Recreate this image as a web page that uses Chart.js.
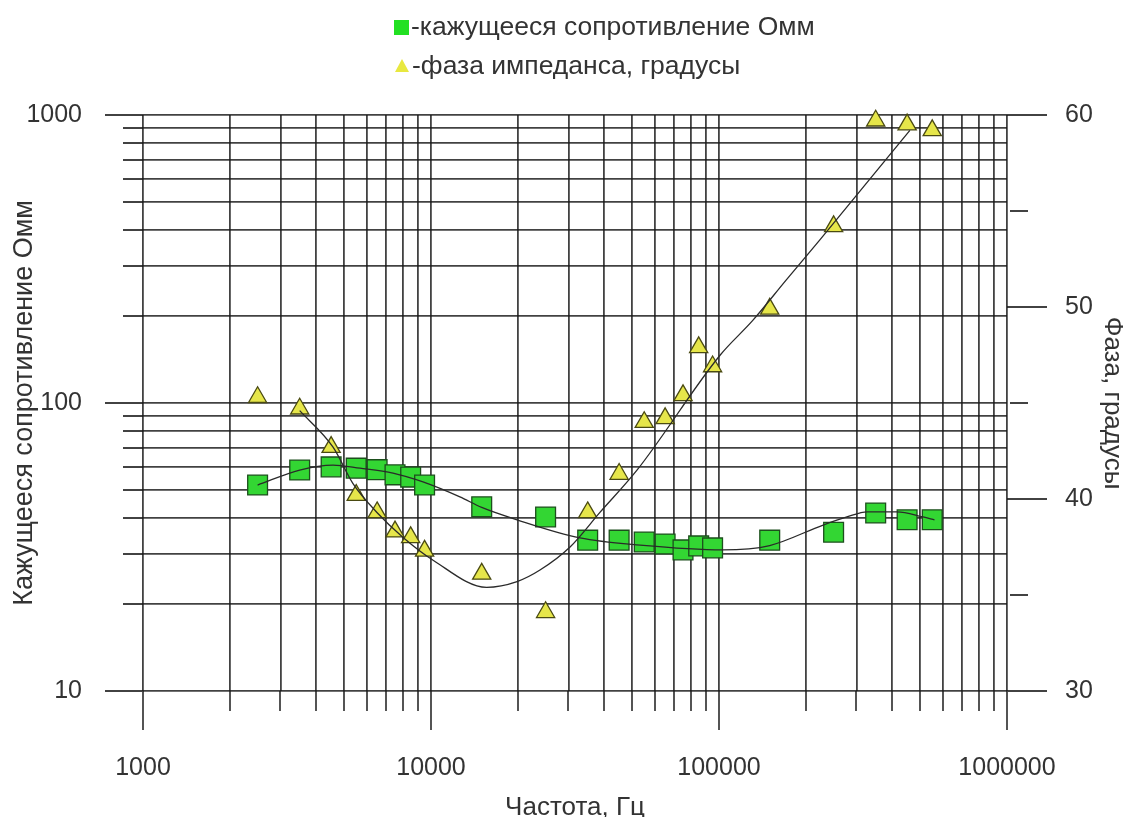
<!DOCTYPE html>
<html>
<head>
<meta charset="utf-8">
<script src="https://cdn.jsdelivr.net/npm/chart.js@4.4.1/dist/chart.umd.min.js"></script>
<style>
  body { margin: 0; background: #fff; }
  #wrap { position: relative; width: 1125px; height: 817px; font-family: "Liberation Sans", Arial, sans-serif; color: #333; }
  .leg { position: absolute; font-size: 26.5px; line-height: 26.5px; white-space: nowrap; }
  .sq { position: absolute; left: 394px; top: 20px; width: 15px; height: 15px; background: #22e022; }
  .tri { position: absolute; left: 395px; top: 59px; width: 0; height: 0;
         border-left: 7.5px solid transparent; border-right: 7.5px solid transparent; border-bottom: 13px solid #e8e840; }
  canvas { position: absolute; left: 0; top: 0; }
</style>
</head>
<body>
<div id="wrap">
  <canvas id="impedanceChart" width="1125" height="817"></canvas>
  <span class="sq"></span><span class="leg" style="left:411px; top:13px;">-кажущееся сопротивление Омм</span>
  <span class="tri"></span><span class="leg" style="left:412px; top:52px;">-фаза импеданса, градусы</span>
</div>
<script>
// measured points
const freq = [2500, 3500, 4500, 5500, 6500, 7500, 8500, 9500, 15000, 25000, 35000, 45000, 55000, 65000, 75000, 85000, 95000, 150000, 250000, 350000, 450000, 550000];
const resistance = [51.9, 58.5, 60.0, 59.4, 58.7, 56.3, 55.3, 51.9, 43.6, 40.2, 33.4, 33.4, 32.9, 32.4, 30.9, 31.9, 31.4, 33.4, 35.6, 41.5, 39.3, 39.3];
const phase = [45.3, 44.7, 42.7, 40.2, 39.3, 38.3, 38.0, 37.3, 36.1, 34.1, 39.3, 41.3, 44.0, 44.2, 45.4, 47.9, 46.9, 49.9, 54.2, 59.7, 59.5, 59.2];

// fitted curves
const resFitFreq = [2500, 3500, 4570, 5670, 7380, 9380, 12600, 15000, 19900, 32900, 53200, 103000, 150000, 230000, 278000, 327000, 415000, 511000, 560000];
const resFitVal = [51.9, 58.5, 60.9, 59.4, 57.1, 53.2, 47.2, 43.4, 39.3, 34.0, 32.1, 30.9, 32.0, 37.7, 40.2, 41.9, 41.9, 40.2, 39.3];
const phaseFitFreq = [3500, 4570, 5360, 6490, 8000, 10200, 15600, 19900, 23900, 30400, 38600, 51900, 101000, 131000, 171000, 224000, 460000];
const phaseFitVal = [44.6, 42.7, 40.8, 39.3, 38.0, 36.8, 35.4, 35.7, 36.3, 37.5, 39.3, 41.5, 47.5, 49.3, 51.4, 53.5, 59.2];

// axes
const xTicks = [1000, 2000, 3000, 4000, 5000, 6000, 7000, 8000, 9000, 10000, 20000, 30000, 40000, 50000, 60000, 70000, 80000, 90000,
  100000, 200000, 300000, 400000, 500000, 600000, 700000, 800000, 900000, 1000000];
const xLabels = [1000, 10000, 100000, 1000000];
const yTicks = [10, 20, 30, 40, 50, 60, 70, 80, 90, 100, 200, 300, 400, 500, 600, 700, 800, 900, 1000];
const yLabels = [10, 100, 1000];
const phaseTicks = [30, 35, 40, 45, 50, 55, 60];
const phaseLabels = [30, 40, 50, 60];

const gridColor = 'rgba(25,25,25,0.82)';
const gridWidth = 1.8;
const textColor = '#333';
const fontFamily = '"Liberation Sans", Arial, sans-serif';

function pts(xs, ys) {
    return xs.map((x, i) => ({ x: x, y: ys[i] }));
}

// tick stubs outside the plot area
const tickMarks = {
    id: 'tickMarks',
    beforeDatasetsDraw(chart) {
        const { ctx, chartArea: a, scales } = chart;
        ctx.save();
        ctx.strokeStyle = gridColor;
        ctx.lineWidth = gridWidth;
        ctx.beginPath();
        xTicks.forEach(v => {
            const px = Math.round(scales.x.getPixelForValue(v));
            ctx.moveTo(px, a.bottom);
            ctx.lineTo(px, a.bottom + (xLabels.includes(v) ? 39 : 20));
        });
        yTicks.forEach(v => {
            const py = Math.round(scales.y.getPixelForValue(v));
            ctx.moveTo(a.left, py);
            ctx.lineTo(a.left - (yLabels.includes(v) ? 38 : 20), py);
        });
        phaseTicks.forEach(v => {
            const py = Math.round(scales.y2.getPixelForValue(v));
            const lab = phaseLabels.includes(v);
            ctx.moveTo(a.right + (lab ? 0 : 3), py);
            ctx.lineTo(a.right + (lab ? 40 : 21), py);
        });
        ctx.stroke();
        ctx.restore();
    }
};

const ctx = document.getElementById('impedanceChart').getContext('2d');
const impedanceChart = new Chart(ctx, {
    type: 'scatter',
    data: {
        datasets: [{
            label: 'fit resistance',
            data: pts(resFitFreq, resFitVal),
            showLine: true,
            pointRadius: 0,
            borderColor: '#2a2a2a',
            borderWidth: 1.3,
            cubicInterpolationMode: 'monotone',
            yAxisID: 'y',
            order: 1
        }, {
            label: 'fit phase',
            data: pts(phaseFitFreq, phaseFitVal),
            showLine: true,
            pointRadius: 0,
            borderColor: '#2a2a2a',
            borderWidth: 1.3,
            cubicInterpolationMode: 'monotone',
            yAxisID: 'y2',
            order: 1
        }, {
            label: 'кажущееся сопротивление Омм',
            data: pts(freq, resistance),
            pointStyle: 'rect',
            pointRadius: 14,
            backgroundColor: '#33d633',
            borderColor: '#1d4f1d',
            borderWidth: 1.3,
            yAxisID: 'y',
            clip: false,
            order: 2
        }, {
            label: 'фаза импеданса, градусы',
            data: pts(freq, phase),
            pointStyle: 'triangle',
            pointRadius: 10.5,
            backgroundColor: '#e6e64a',
            borderColor: '#4a4a12',
            borderWidth: 1.3,
            yAxisID: 'y2',
            clip: false,
            order: 3
        }]
    },
    options: {
        responsive: false,
        animation: false,
        events: [],
        layout: { padding: { top: 115, left: 0, right: 0, bottom: 0 } },
        plugins: {
            legend: { display: false },
            tooltip: { enabled: false }
        },
        scales: {
            x: {
                type: 'logarithmic',
                position: 'bottom',
                min: 1000,
                max: 1000000,
                afterBuildTicks: s => { s.ticks = xTicks.map(v => ({ value: v })); },
                afterFit: s => { s.height = 126; },
                border: { display: false },
                grid: { color: gridColor, lineWidth: gridWidth, drawTicks: false },
                ticks: {
                    autoSkip: false,
                    maxRotation: 0,
                    padding: 62,
                    color: textColor,
                    font: { family: fontFamily, size: 25 },
                    callback: v => xLabels.includes(v) ? String(v) : ''
                },
                title: {
                    display: true,
                    text: 'Частота, Гц',
                    color: textColor,
                    font: { family: fontFamily, size: 26, lineHeight: 1 },
                    padding: { top: 0, bottom: -4 }
                }
            },
            y: {
                type: 'logarithmic',
                position: 'left',
                min: 10,
                max: 1000,
                afterBuildTicks: s => { s.ticks = yTicks.map(v => ({ value: v })); },
                afterFit: s => { s.width = 143; },
                border: { display: false },
                grid: { color: gridColor, lineWidth: gridWidth, drawTicks: false },
                ticks: {
                    autoSkip: false,
                    padding: 61,
                    color: textColor,
                    font: { family: fontFamily, size: 25 },
                    callback: v => yLabels.includes(v) ? String(v) : ''
                },
                title: {
                    display: true,
                    text: 'Кажущееся сопротивление Омм',
                    color: textColor,
                    font: { family: fontFamily, size: 27, lineHeight: 1 },
                    padding: { top: 11, bottom: 0 }
                }
            },
            y2: {
                type: 'linear',
                position: 'right',
                min: 30,
                max: 60,
                afterBuildTicks: s => { s.ticks = phaseTicks.map(v => ({ value: v })); },
                afterFit: s => { s.width = 118; },
                border: { display: false },
                grid: { drawOnChartArea: false, drawTicks: false },
                ticks: {
                    autoSkip: false,
                    padding: 58,
                    color: textColor,
                    font: { family: fontFamily, size: 25 },
                    callback: v => phaseLabels.includes(v) ? String(v) : ''
                },
                title: {
                    display: true,
                    text: 'Фаза, градусы',
                    color: textColor,
                    font: { family: fontFamily, size: 26, lineHeight: 1 },
                    padding: { top: 0, bottom: 0 }
                }
            }
        }
    },
    plugins: [tickMarks]
});
</script>
</body>
</html>
